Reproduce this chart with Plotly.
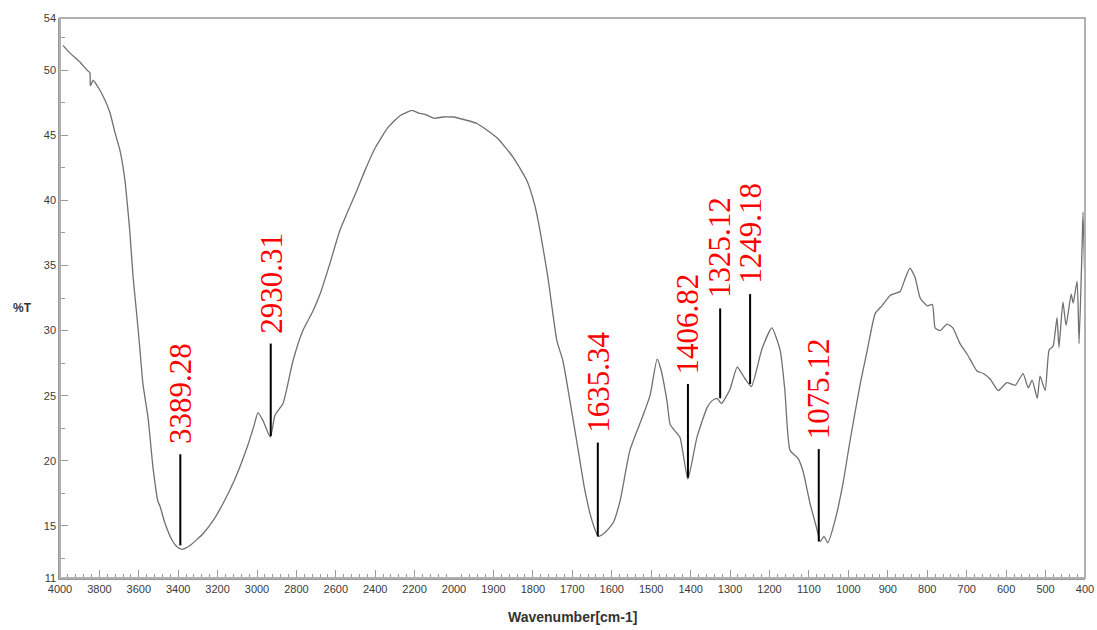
import plotly.graph_objects as go

# ---- data (wavenumber cm-1, %T) ----
wavenumber = [3985, 3949, 3898, 3863, 3848, 3846, 3832, 3807, 3772, 3746, 3721, 3695,
              3670, 3660, 3645, 3629, 3609, 3594, 3579, 3553, 3528, 3503, 3492, 3467,
              3431, 3406, 3381, 3340, 3274, 3223, 3173, 3112, 3051, 3015, 2995, 2970,
              2932, 2909, 2868, 2817, 2767, 2716, 2680, 2629, 2579, 2492, 2452, 2401,
              2335, 2274, 2213, 2180, 2147, 2100, 2056, 2000, 1942, 1891, 1850, 1815,
              1795, 1782, 1762, 1739, 1724, 1706, 1685, 1668, 1650, 1634, 1617, 1597,
              1579, 1554, 1523, 1503, 1485, 1477, 1460, 1452, 1440, 1427, 1407, 1384,
              1358, 1346, 1333, 1322, 1300, 1282, 1262, 1246, 1219, 1194, 1173, 1161,
              1148, 1128, 1115, 1097, 1082, 1071, 1062, 1052, 1034, 1014, 996, 970,
              952, 932, 915, 894, 869, 856, 844, 831, 818, 800, 787, 780, 767, 750,
              735, 717, 699, 686, 674, 658, 641, 620, 598, 577, 557, 544, 534, 521,
              514, 501, 491, 481, 471, 466, 456, 448, 435, 430, 420, 415, 407, 405, 400]
transmittance = [51.9, 51.3, 50.6, 50.0, 49.8, 48.8, 49.2, 48.7, 47.7, 46.7, 45.2, 43.8,
                 41.5, 40.0, 37.5, 34.1, 31.0, 28.5, 25.9, 23.3, 19.5, 16.9, 16.5, 15.2,
                 13.9, 13.4, 13.2, 13.5, 14.4, 15.4, 16.7, 18.6, 21.0, 22.7, 23.7, 23.1,
                 21.8, 23.5, 24.4, 27.7, 30.0, 31.5, 32.8, 35.2, 37.7, 40.8, 42.3, 44.0,
                 45.6, 46.5, 46.9, 46.7, 46.6, 46.3, 46.4, 46.4, 45.9, 44.8, 43.3, 41.5,
                 39.6, 37.7, 34.1, 29.2, 27.7, 24.6, 20.8, 17.7, 15.4, 14.2, 14.5, 15.2,
                 16.9, 20.8, 23.3, 25.0, 27.8, 27.2, 24.6, 22.8, 22.3, 21.8, 18.6, 21.8,
                 24.1, 24.6, 24.8, 24.4, 25.5, 27.2, 26.3, 25.7, 28.6, 30.2, 28.5, 25.4,
                 20.8, 20.2, 19.2, 16.7, 15.0, 13.8, 14.2, 13.7, 15.4, 18.2, 21.5, 25.9,
                 28.5, 31.3, 31.9, 32.7, 33.0, 34.0, 34.8, 34.1, 32.5, 31.9, 32.0, 30.2,
                 30.0, 30.5, 30.2, 29.0, 28.2, 27.5, 26.9, 26.7, 26.3, 25.4, 26.0, 25.8,
                 26.7, 25.6, 26.2, 24.8, 26.5, 25.4, 28.5, 28.8, 31.0, 28.7, 32.2, 30.4,
                 32.8, 32.1, 33.8, 29.0, 36.9, 39.1, 33.1]

peak_labels = ["3389.28", "2930.31", "1635.34", "1406.82", "1325.12", "1249.18", "1075.12"]
peak_positions = [3389.28, 2930.31, 1635.34, 1406.82, 1325.12, 1249.18, 1075.12]
marker_top = [20.5, 29.0, 21.4, 25.9, 31.7, 32.8, 20.9]
marker_bottom = [13.5, 21.9, 14.2, 18.7, 24.8, 25.9, 13.8]

x_major_high = list(range(4000, 2100, -200))      # 4000..2200
x_major_low = list(range(2000, 300, -100))        # 2000..400
y_ticks = [11, 15, 20, 25, 30, 35, 40, 45, 50, 54]
y_minor = [12.5, 17.5, 22.5, 27.5, 32.5, 37.5, 42.5, 47.5, 52.5]

SPLIT = 2000
split_frac = 394 / 1025

hi_x = [w for w in wavenumber if w >= SPLIT]
hi_y = [t for w, t in zip(wavenumber, transmittance) if w >= SPLIT]
lo_x = [w for w in wavenumber if w <= SPLIT]
lo_y = [t for w, t in zip(wavenumber, transmittance) if w <= SPLIT]

line_style = dict(color="#707070", width=1.3, shape="spline", smoothing=0.5)
fig = go.Figure()
fig.add_trace(go.Scatter(x=hi_x, y=hi_y, mode="lines", line=line_style,
                         xaxis="x", yaxis="y", showlegend=False, hoverinfo="x+y"))
fig.add_trace(go.Scatter(x=lo_x, y=lo_y, mode="lines", line=line_style,
                         xaxis="x2", yaxis="y", showlegend=False, hoverinfo="x+y"))

tickfont = dict(family="Liberation Sans, Arial, sans-serif", size=11, color="#3a3a3a")
axis_common = dict(showgrid=False, zeroline=False, showline=True, linecolor="#9a9a9a",
                   linewidth=1.5, ticks="inside", ticklen=8, tickcolor="#9a9a9a",
                   tickwidth=1, tickfont=tickfont, automargin=False)

shapes = [dict(type="rect", xref="paper", yref="paper", x0=0, y0=0, x1=1, y1=1,
               line=dict(color="#b0b0b0", width=2), layer="above")]
annotations = []
for lab, pos, top, bot in zip(peak_labels, peak_positions, marker_top, marker_bottom):
    xr = "x" if pos >= SPLIT else "x2"
    shapes.append(dict(type="line", xref=xr, yref="y", x0=pos, x1=pos, y0=bot, y1=top,
                       line=dict(color="black", width=2)))
    annotations.append(dict(x=pos, y=top, xref=xr, yref="y", text=lab, showarrow=False,
                            textangle=-90, xanchor="center", yanchor="bottom", yshift=8,
                            font=dict(family="Liberation Serif, Times New Roman, serif",
                                      size=31, color="#ff0000")))

annotations.append(dict(x=0.5, y=0, xref="paper", yref="paper", yshift=-39,
                        text="<b>Wavenumber[cm-1]</b>", showarrow=False,
                        xanchor="center", yanchor="middle",
                        font=dict(family="Liberation Sans, Arial, sans-serif", size=14,
                                  color="#333333")))
annotations.append(dict(x=0, y=(578 - 308) / 560, xref="paper", yref="paper", xshift=-38,
                        text="<b>%T</b>", showarrow=False, xanchor="center",
                        yanchor="middle",
                        font=dict(family="Liberation Sans, Arial, sans-serif", size=12,
                                  color="#333333")))

fig.update_layout(
    width=1097, height=630,
    margin=dict(l=60, r=12, t=18, b=52),
    paper_bgcolor="white", plot_bgcolor="white",
    xaxis=dict(domain=[0, split_frac], range=[4000, SPLIT], anchor="y",
               tickvals=x_major_high, ticktext=[str(v) for v in x_major_high],
               minor=dict(dtick=40, tick0=4000, ticklen=4, ticks="inside",
                          tickcolor="#9a9a9a"),
               **axis_common),
    xaxis2=dict(domain=[split_frac, 1], range=[SPLIT, 400], anchor="y",
                tickvals=x_major_low, ticktext=[str(v) for v in x_major_low],
                minor=dict(dtick=20, tick0=2000, ticklen=4, ticks="inside",
                           tickcolor="#9a9a9a"),
                **axis_common),
    yaxis=dict(domain=[0, 1], range=[11, 54], anchor="x",
               tickvals=y_ticks, ticktext=[str(v) for v in y_ticks],
               minor=dict(tickvals=y_minor, ticklen=5, ticks="inside",
                          tickcolor="#9a9a9a"),
               **axis_common),
    shapes=shapes,
    annotations=annotations,
)

fig.write_html("out.html")
